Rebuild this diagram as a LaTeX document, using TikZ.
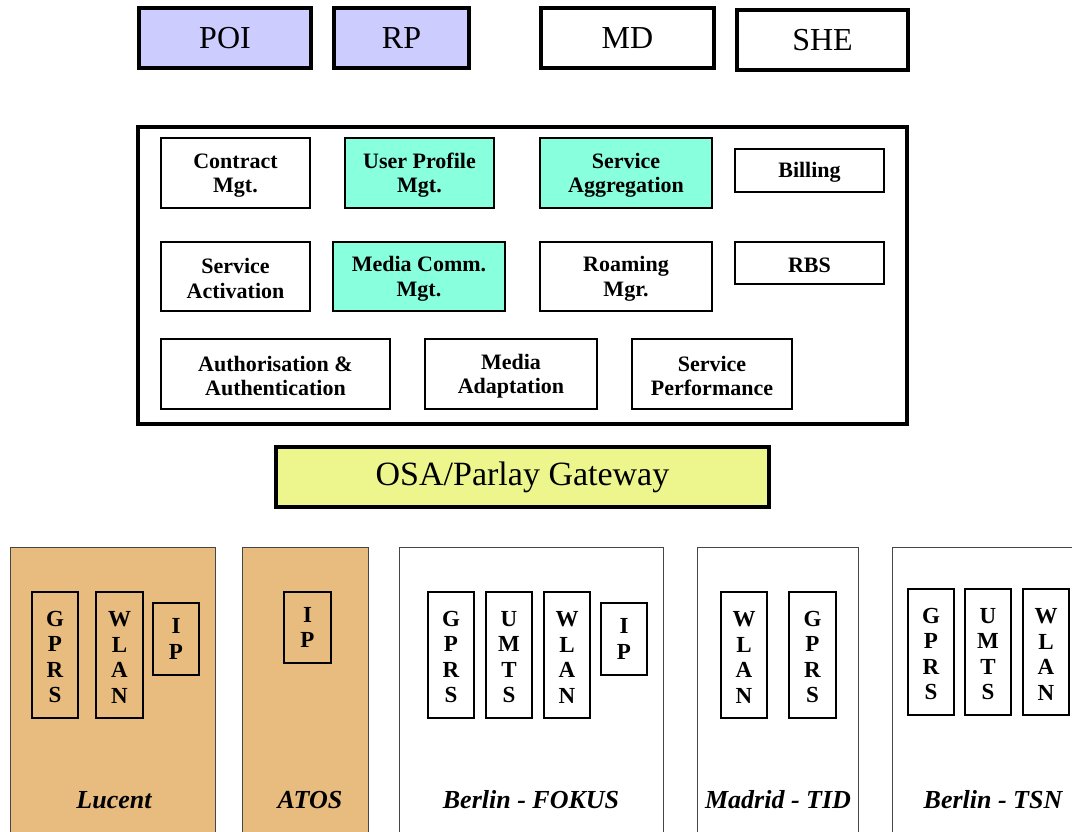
\documentclass[tikz,border=0pt]{standalone}
\usepackage{fontspec}
\setmainfont{Liberation Serif}
\definecolor{lav}{RGB}{204,204,255}
\definecolor{aqua}{RGB}{136,255,221}
\definecolor{ylw}{RGB}{236,246,140}
\definecolor{tan}{RGB}{232,187,126}
\definecolor{edge}{RGB}{70,70,70}
\newcommand\placebox[7]{%
  \node[#2, minimum width={(#5-#3)*1pt}, minimum height={(#6-#4)*1pt}]
    (#1) at ({(#3+#5)/2},{(#4+#6)/2}) {#7};}
\newcommand\upstrut{\rule{0pt}{19.5pt}}
\begin{document}
\begin{tikzpicture}[x=1pt,y=-1pt,
  every node/.style={inner sep=0pt, outer sep=0pt, align=center},
  topbox/.style={draw=black, line width=4pt, font=\fontsize{32}{34}\selectfont},
  framebox/.style={draw=black, line width=4pt},
  fnbox/.style={draw=black, line width=1.6pt, fill=white, font=\bfseries\fontsize{22}{24.5}\selectfont},
  gwbox/.style={draw=black, line width=4pt, fill=ylw, font=\fontsize{34}{36}\selectfont},
  sitebox/.style={draw=edge, line width=0.9pt},
  techbox/.style={draw=black, line width=1.6pt, font=\bfseries\fontsize{23}{25.5}\selectfont},
  sitelabel/.style={font=\bfseries\itshape\fontsize{26}{28}\selectfont, anchor=base}]
\clip (0,0) rectangle (1072,831);
\fill[white] (0,0) rectangle (1072,831);

% top row
\placebox{poi}{topbox, fill=lav}{139}{8}{311}{68}{POI}
\placebox{rp}{topbox, fill=lav}{334}{8}{469}{68}{RP}
\placebox{md}{topbox, fill=white}{541}{8}{714}{68}{MD}
\placebox{she}{topbox, fill=white}{737}{10}{908}{70}{SHE}

% service frame
\placebox{frame}{framebox}{138}{127}{907}{424}{}
\placebox{contract}{fnbox}{161}{138}{310}{208}{\upstrut Contract\\Mgt.}
\placebox{userprof}{fnbox, fill=aqua}{345}{138}{494}{208}{\upstrut User Profile\\Mgt.}
\placebox{aggr}{fnbox, fill=aqua}{540}{138}{712}{208}{\upstrut Service\\Aggregation}
\placebox{billing}{fnbox}{735}{149}{884}{192}{\upstrut Billing}
\placebox{activ}{fnbox}{161}{242}{310}{311}{\upstrut Service\\Activation}
\placebox{mediacomm}{fnbox, fill=aqua}{333}{242}{505}{311}{\upstrut Media Comm.\\Mgt.}
\placebox{roaming}{fnbox}{540}{242}{712}{311}{\upstrut Roaming\\Mgr.}
\placebox{rbs}{fnbox}{735}{242}{884}{284}{\upstrut RBS}
\placebox{auth}{fnbox}{161}{339}{390}{409}{\upstrut Authorisation \&\\Authentication}
\placebox{adapt}{fnbox}{425}{339}{597}{409}{\upstrut Media\\Adaptation}
\placebox{perf}{fnbox}{632}{339}{792}{409}{\upstrut Service\\Performance}

% gateway
\placebox{gw}{gwbox}{276}{447}{769}{507}{OSA/Parlay Gateway}

% sites
\placebox{lucent}{sitebox, fill=tan}{10}{547}{215}{845}{}
\placebox{atos}{sitebox, fill=tan}{242}{547}{368}{845}{}
\placebox{fokus}{sitebox, fill=white}{399}{547}{663}{845}{}
\placebox{tid}{sitebox, fill=white}{697}{547}{858}{845}{}
\placebox{tsn}{sitebox, fill=white}{892}{547}{1085}{845}{}

% Lucent
\placebox{lgprs}{techbox}{32}{592}{78}{718}{\upstrut G\\P\\R\\S}
\placebox{lwlan}{techbox}{96}{592}{143}{718}{\upstrut W\\L\\A\\N}
\placebox{lip}{techbox}{153}{603}{199}{675}{I\\P}
\node[sitelabel] (llab) at (114,808) {Lucent};

% ATOS
\placebox{aip}{techbox}{284}{592}{331}{663}{I\\P}
\node[sitelabel] (alab) at (310,808) {ATOS};

% Berlin FOKUS
\placebox{fgprs}{techbox}{428}{592}{474}{718}{\upstrut G\\P\\R\\S}
\placebox{fumts}{techbox}{486}{592}{532}{718}{\upstrut U\\M\\T\\S}
\placebox{fwlan}{techbox}{544}{592}{590}{718}{\upstrut W\\L\\A\\N}
\placebox{fip}{techbox}{601}{603}{647}{675}{I\\P}
\node[sitelabel] (flab) at (531,808) {Berlin - FOKUS};

% Madrid TID
\placebox{twlan}{techbox}{721}{592}{767}{718}{\upstrut W\\L\\A\\N}
\placebox{tgprs}{techbox}{789}{592}{836}{718}{\upstrut G\\P\\R\\S}
\node[sitelabel] (tlab) at (778,808) {Madrid - TID};

% Berlin TSN
\placebox{sgprs}{techbox}{908}{589}{954}{715}{\upstrut G\\P\\R\\S}
\placebox{sumts}{techbox}{965}{589}{1011}{715}{\upstrut U\\M\\T\\S}
\placebox{swlan}{techbox}{1023}{589}{1069}{715}{\upstrut W\\L\\A\\N}
\node[sitelabel] (slab) at (993,808) {Berlin - TSN};
\end{tikzpicture}
\end{document}
